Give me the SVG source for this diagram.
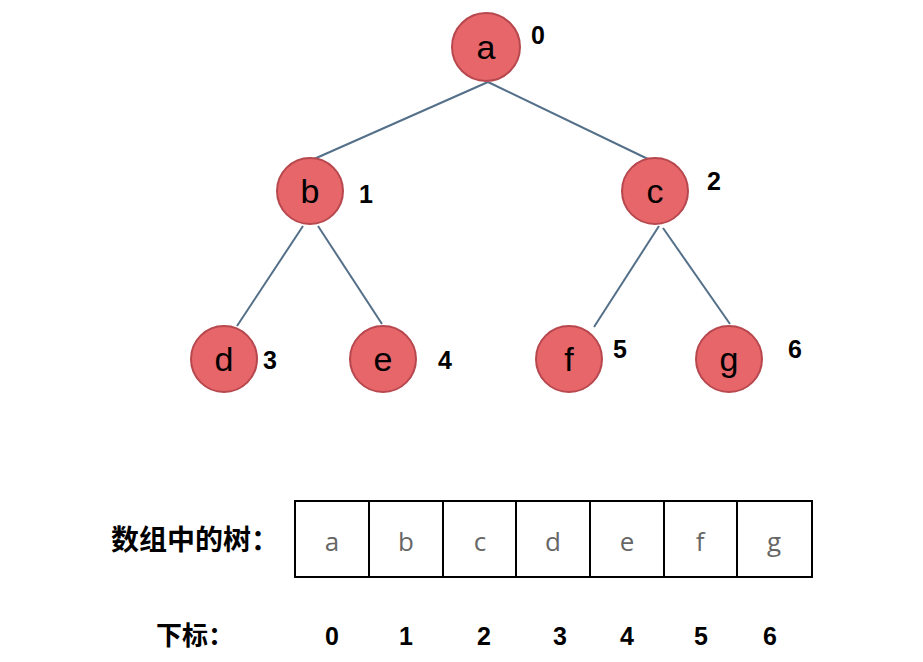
<svg xmlns="http://www.w3.org/2000/svg" width="923" height="662" viewBox="0 0 923 662">
<style>
.node circle{fill:#e6666a;stroke:#b7484e;stroke-width:2}
.node text.l{font-family:"Liberation Sans",Arial,sans-serif;font-size:34px;fill:#000;text-anchor:middle}
.idx{font-family:"Liberation Sans",Arial,sans-serif;font-size:25px;font-weight:bold;fill:#000;text-anchor:middle}
#edges line{stroke:#547089;stroke-width:2}
.cell{fill:none;stroke:#000;stroke-width:2}
.arr{font-family:"Open Sans","Noto Sans",sans-serif;font-size:26px;fill:#666;text-anchor:middle}
.cjk{font-family:"Noto Sans CJK SC",sans-serif;font-weight:bold;fill:#000}
</style>
<rect width="923" height="662" fill="#fff"/>
<g id="edges">
<line x1="488" y1="82" x2="314" y2="159"/>
<line x1="488" y1="82" x2="650" y2="160"/>
<line x1="303" y1="226" x2="237" y2="326"/>
<line x1="318" y1="226" x2="382" y2="324"/>
<line x1="659" y1="226" x2="594" y2="327"/>
<line x1="663" y1="228" x2="730" y2="324"/>
</g>
<g id="node-a" class="node"><circle cx="486" cy="47" r="34"/><text class="l" x="486" y="59">a</text><text class="idx" x="538" y="44">0</text></g>
<g id="node-b" class="node"><circle cx="310" cy="191" r="33"/><text class="l" x="310" y="203">b</text><text class="idx" x="366" y="203">1</text></g>
<g id="node-c" class="node"><circle cx="655" cy="191" r="33"/><text class="l" x="655" y="203">c</text><text class="idx" x="714" y="190">2</text></g>
<g id="node-d" class="node"><circle cx="224" cy="359" r="33"/><text class="l" x="224" y="371">d</text><text class="idx" x="270" y="369">3</text></g>
<g id="node-e" class="node"><circle cx="383" cy="359" r="33"/><text class="l" x="383" y="371">e</text><text class="idx" x="445" y="369">4</text></g>
<g id="node-f" class="node"><circle cx="569" cy="359" r="33"/><text class="l" x="569" y="371">f</text><text class="idx" x="620" y="358">5</text></g>
<g id="node-g" class="node"><circle cx="729" cy="359" r="33"/><text class="l" x="729" y="371">g</text><text class="idx" x="795" y="358">6</text></g>
<g id="array">
<text class="cjk" x="111" y="550" font-size="28">数组中的树：</text>
<rect class="cell" x="295" y="501" width="517" height="76"/>
<line class="cell" x1="369" y1="501" x2="369" y2="577"/>
<line class="cell" x1="443" y1="501" x2="443" y2="577"/>
<line class="cell" x1="516" y1="501" x2="516" y2="577"/>
<line class="cell" x1="590" y1="501" x2="590" y2="577"/>
<line class="cell" x1="664" y1="501" x2="664" y2="577"/>
<line class="cell" x1="737" y1="501" x2="737" y2="577"/>
<text class="arr" x="332" y="551">a</text>
<text class="arr" x="406" y="551">b</text>
<text class="arr" x="480" y="551">c</text>
<text class="arr" x="553" y="551">d</text>
<text class="arr" x="627" y="551">e</text>
<text class="arr" x="700" y="551">f</text>
<text class="arr" x="774" y="551">g</text>
</g>
<g id="index-row">
<text class="cjk" x="156" y="645" font-size="26">下标：</text>
<text class="idx" x="332" y="645">0</text>
<text class="idx" x="406" y="645">1</text>
<text class="idx" x="484" y="645">2</text>
<text class="idx" x="560" y="645">3</text>
<text class="idx" x="627" y="645">4</text>
<text class="idx" x="701" y="645">5</text>
<text class="idx" x="770" y="645">6</text>
</g>
</svg>
